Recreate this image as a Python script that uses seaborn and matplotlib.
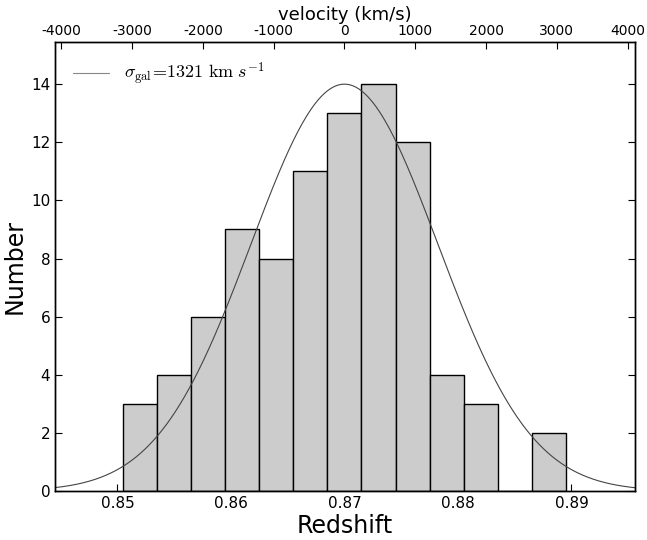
import numpy as np
import pandas as pd
import matplotlib
matplotlib.use("Agg")
import matplotlib.pyplot as plt
import seaborn as sns

# Data
bin_edges = [0.8505, 0.8535, 0.8565, 0.8595, 0.8625, 0.8655, 0.8685,
             0.8715, 0.8745, 0.8775, 0.8805, 0.8835, 0.8865, 0.8895]
counts = [3, 4, 6, 9, 8, 11, 13, 14, 12, 4, 3, 0, 2]
z_center = 0.8700
sigma_kms = 1321.0
peak = 14.0
c_kms = 299792.458
vel_ticks = [-4000, -3000, -2000, -1000, 0, 1000, 2000, 3000, 4000]
z_ticks = [0.85, 0.86, 0.87, 0.88, 0.89]
y_ticks = [0, 2, 4, 6, 8, 10, 12, 14]

sns.set_style("ticks", rc={"axes.edgecolor": "black", "text.color": "black",
                           "axes.labelcolor": "black", "xtick.color": "black",
                           "ytick.color": "black"})
plt.rcParams['font.family'] = ['DejaVu Sans']
plt.rcParams['mathtext.fontset'] = 'cm'
plt.rcParams['xtick.direction'] = 'in'
plt.rcParams['ytick.direction'] = 'in'

fig = plt.figure(figsize=(6.47, 5.40), dpi=100)
ax = fig.add_axes([55/647, 1-491/540, (635-55)/647, (491-42)/540])

centers = [(bin_edges[i] + bin_edges[i+1]) / 2 for i in range(len(counts))]
df = pd.DataFrame({"z": centers, "n": counts})
sns.histplot(data=df, x="z", weights="n", bins=bin_edges, ax=ax,
             color="#cccccc", edgecolor="black", linewidth=1.0, alpha=1.0)

xlim = (0.8445, 0.8956)
sigma_z = sigma_kms / c_kms * (1 + z_center)
xx = np.linspace(xlim[0], xlim[1], 400)
yy = peak * np.exp(-0.5 * ((xx - z_center) / sigma_z) ** 2)
sns.lineplot(x=xx, y=yy, ax=ax, color="#444444", linewidth=0.8,
             label=r'$\sigma_{\rm gal}\!=\!1321\ {\rm km}\ s^{-1}$')

ax.set_xlim(*xlim)
ax.set_ylim(0, 15.45)
ax.set_xticks(z_ticks)
ax.set_xticklabels([f"{t:.2f}" for t in z_ticks])
ax.set_yticks(y_ticks)
ax.tick_params(axis='both', which='major', labelsize=11, length=5, width=0.8,
               direction='in', top=False, right=True)
ax.set_xlabel("Redshift", fontsize=17, labelpad=2)
ax.set_ylabel("Number", fontsize=17, labelpad=3)
for s in ax.spines.values():
    s.set_linewidth(1.0)

leg = ax.legend(loc='upper left', frameon=False, fontsize=13,
                handlelength=2.0, borderaxespad=0.6)
for line in leg.get_lines():
    line.set_color("#888888")

ax2 = ax.twiny()
vlim = [c_kms * (x - z_center) / (1 + z_center) for x in xlim]
ax2.set_xlim(*vlim)
ax2.set_xticks(vel_ticks)
ax2.set_xticklabels([str(v) for v in vel_ticks])
ax2.tick_params(axis='x', labelsize=10, length=5, width=0.8, direction='in', pad=3)
ax2.set_xlabel("velocity (km/s)", fontsize=13, labelpad=3)
for s in ax2.spines.values():
    s.set_linewidth(1.0)

fig.savefig("out.png", dpi=100)
